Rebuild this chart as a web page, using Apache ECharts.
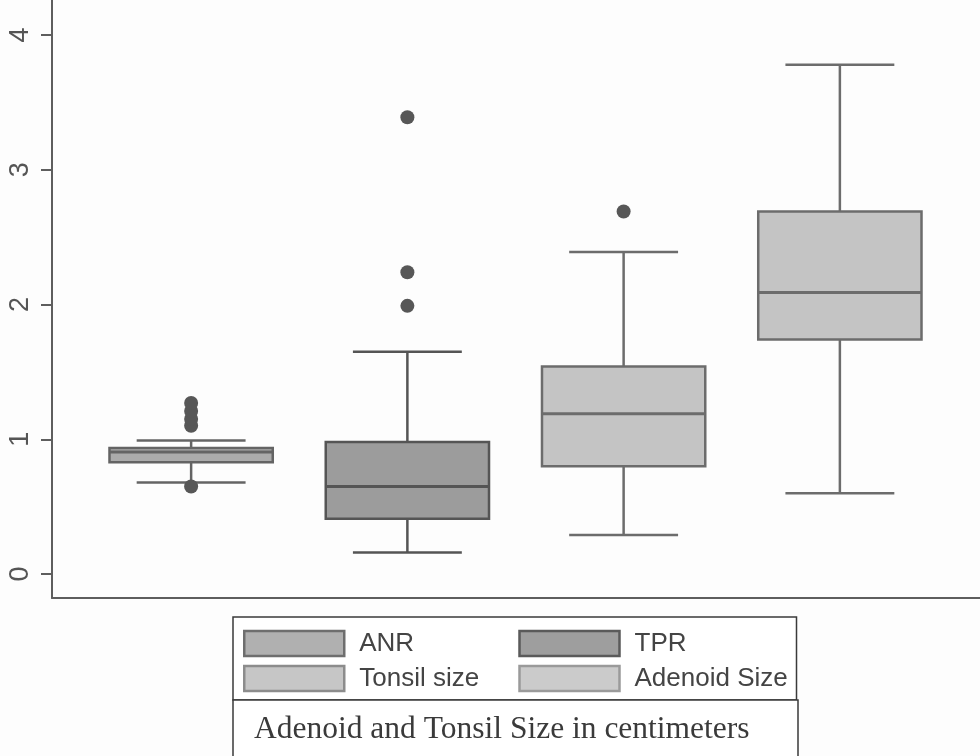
<!DOCTYPE html>
<html>
<head>
<meta charset="utf-8">
<script src="https://cdn.jsdelivr.net/npm/echarts@6/dist/echarts.min.js"></script>
<style>
  html, body { margin: 0; padding: 0; background: #fdfdfd; }
  #chart { width: 980px; height: 756px; }
</style>
</head>
<body>
<div id="chart"></div>
<script>
// Box plot groups, in drawing order
const categories = ['ANR', 'TPR', 'Tonsil size', 'Adenoid Size'];

// Five-number summaries per group (cm)
const whiskerLow  = [0.68, 0.16, 0.29, 0.60];
const quartile1   = [0.83, 0.41, 0.80, 1.74];
const medians     = [0.905, 0.65, 1.19, 2.09];
const quartile3   = [0.935, 0.98, 1.54, 2.69];
const whiskerHigh = [0.99, 1.65, 2.39, 3.78];

// Outside values per group
const outliersANR     = [0.65, 1.10, 1.15, 1.21, 1.27];
const outliersTPR     = [1.99, 2.24, 3.39];
const outliersTonsil  = [2.69];
const outliersAdenoid = [];

// Y tick labels
const yTicks = [0, 1, 2, 3, 4];

const outlierLists = [outliersANR, outliersTPR, outliersTonsil, outliersAdenoid];

// Fill / stroke per group
const boxFill   = ['#ababab', '#9c9c9c', '#c4c4c4', '#c4c4c4'];
const boxStroke = ['#646464', '#555555', '#6c6c6c', '#6c6c6c'];
const swatchFill   = ['#b0b0b0', '#9e9e9e', '#c6c6c6', '#cbcbcb'];
const swatchStroke = ['#6e6e6e', '#5a5a5a', '#8c8c8c', '#9a9a9a'];

const Y_MIN = -0.178, Y_MAX = 4.26;

function renderBox(params, api) {
  const idx = api.value(0);
  const x = api.coord([idx, api.value(3)])[0];
  const yLo = api.coord([idx, api.value(1)])[1];
  const yQ1 = api.coord([idx, api.value(2)])[1];
  const yMed = api.coord([idx, api.value(3)])[1];
  const yQ3 = api.coord([idx, api.value(4)])[1];
  const yHi = api.coord([idx, api.value(5)])[1];
  const band = api.size([1, 0])[0];
  const bw = band * 0.755;
  const cw = bw * 0.667;
  const stroke = boxStroke[params.seriesIndex];
  const lineStyle = { stroke: stroke, lineWidth: 2.5, fill: null };
  return {
    type: 'group',
    children: [
      { type: 'line', shape: { x1: x, y1: yLo, x2: x, y2: yQ1 }, style: lineStyle },
      { type: 'line', shape: { x1: x, y1: yQ3, x2: x, y2: yHi }, style: lineStyle },
      { type: 'line', shape: { x1: x - cw / 2, y1: yLo, x2: x + cw / 2, y2: yLo }, style: lineStyle },
      { type: 'line', shape: { x1: x - cw / 2, y1: yHi, x2: x + cw / 2, y2: yHi }, style: lineStyle },
      { type: 'rect', shape: { x: x - bw / 2, y: yQ3, width: bw, height: yQ1 - yQ3 },
        style: { fill: boxFill[params.seriesIndex], stroke: stroke, lineWidth: 2.5 } },
      { type: 'line', shape: { x1: x - bw / 2, y1: yMed, x2: x + bw / 2, y2: yMed }, style: { stroke: stroke, lineWidth: 3 } }
    ]
  };
}

const series = [];
categories.forEach(function (name, i) {
  series.push({
    name: name,
    type: 'custom',
    xAxisIndex: 1,
    yAxisIndex: 1,
    renderItem: renderBox,
    encode: { x: 0, y: [1, 2, 3, 4, 5] },
    itemStyle: { color: boxFill[i] },
    data: [[i, whiskerLow[i], quartile1[i], medians[i], quartile3[i], whiskerHigh[i]]],
    silent: true,
    z: 2
  });
});
categories.forEach(function (name, i) {
  series.push({
    name: name,
    type: 'scatter',
    xAxisIndex: 1,
    yAxisIndex: 1,
    symbol: 'circle',
    symbolSize: 14,
    itemStyle: { color: '#575757', opacity: 1 },
    data: outlierLists[i].map(function (v) { return [i, v]; }),
    silent: true,
    z: 3
  });
});

const chart = echarts.init(document.getElementById('chart'), null, { renderer: 'canvas' });
chart.setOption({
  backgroundColor: '#fdfdfd',
  animation: false,
  textStyle: { fontFamily: 'Liberation Sans' },
  title: {
    text: 'Adenoid and Tonsil Size in centimeters',
    left: 233,
    top: 700,
    padding: [14, 49, 40, 21],
    borderColor: '#3a3a3a',
    borderWidth: 1.5,
    backgroundColor: '#ffffff',
    textStyle: { fontFamily: 'Liberation Serif', fontSize: 31.5, fontWeight: 'normal', color: '#3a3a3a' }
  },
  legend: {
    left: 233,
    top: 617,
    orient: 'horizontal',
    width: 560,
    icon: 'rect',
    itemWidth: 100,
    itemHeight: 25,
    itemGap: 5,
    padding: [11.5, 8, 6.5, 10],
    borderColor: '#3a3a3a',
    borderWidth: 1.5,
    backgroundColor: '#ffffff',
    selectedMode: false,
    textStyle: { fontFamily: 'Liberation Sans', fontSize: 26, color: '#444', width: 154, lineHeight: 30, padding: [0, 0, 0, 10] },
    data: categories.map(function (name, i) {
      return { name: name, itemStyle: { color: swatchFill[i], borderColor: swatchStroke[i], borderWidth: 2.5 } };
    })
  },
  grid: [
    { left: 52, right: -5, top: 0, bottom: 158 },
    { left: 83, right: 32, top: 0, bottom: 158 }
  ],
  xAxis: [
    {
      gridIndex: 0, type: 'value', min: 0, max: 1,
      axisLine: { show: true, onZero: false, lineStyle: { color: '#5e5e5e', width: 2 } },
      axisTick: { show: false }, axisLabel: { show: false }, splitLine: { show: false }
    },
    {
      gridIndex: 1, type: 'category', data: categories, boundaryGap: true, show: false
    }
  ],
  yAxis: [
    {
      gridIndex: 0, type: 'value', min: Y_MIN, max: Y_MAX,
      axisLine: { show: true, onZero: false, lineStyle: { color: '#5e5e5e', width: 2 } },
      axisTick: { show: true, length: 11, customValues: yTicks, lineStyle: { color: '#5e5e5e', width: 2 } },
      axisLabel: { customValues: yTicks, rotate: 90, margin: 18, fontSize: 27, color: '#555', fontFamily: 'Liberation Sans' },
      splitLine: { show: false }
    },
    {
      gridIndex: 1, type: 'value', min: Y_MIN, max: Y_MAX, show: false, splitLine: { show: false }
    }
  ],
  series: series
});
</script>
</body>
</html>
